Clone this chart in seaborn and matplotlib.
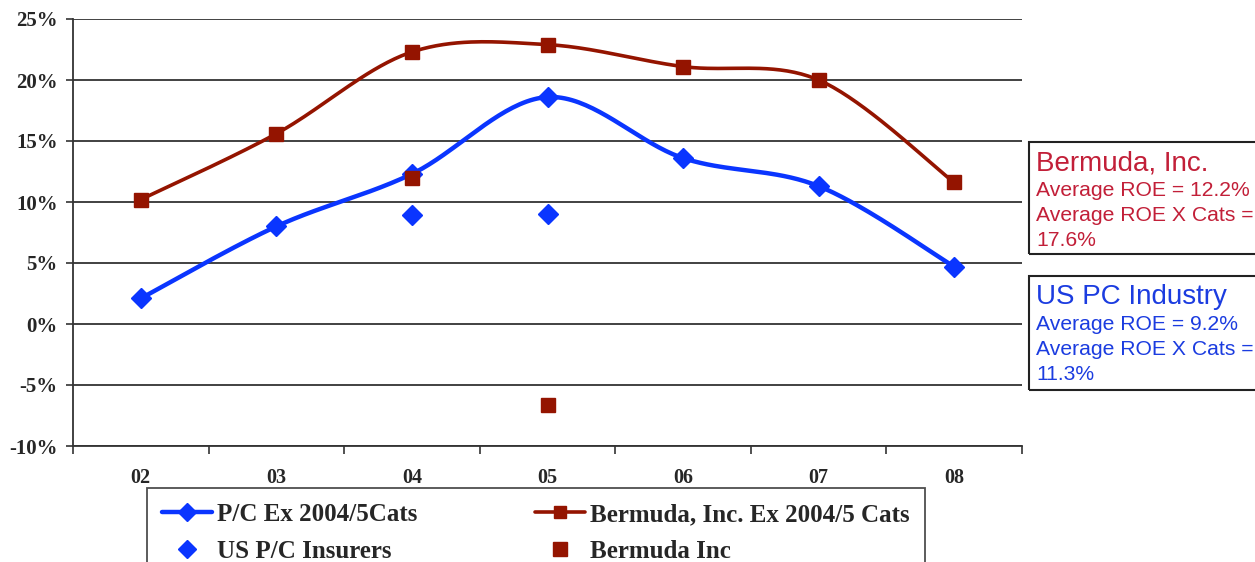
import numpy as np
import matplotlib
matplotlib.use("Agg")
import matplotlib.pyplot as plt
from matplotlib.lines import Line2D
from matplotlib.patches import Rectangle
import seaborn as sns

years = ["02", "03", "04", "05", "06", "07", "08"]
pc_ex_cats = [2.1, 8.0, 12.3, 18.6, 13.6, 11.3, 4.7]
bermuda_ex_cats = [10.2, 15.6, 22.3, 22.9, 21.1, 20.0, 11.6]
us_pc_years = ["04", "05"]
us_pc_insurers = [8.9, 9.0]
bermuda_years = ["04", "05"]
bermuda_inc = [12.0, -6.6]
y_ticks = [-10, -5, 0, 5, 10, 15, 20, 25]

blue = "#0A35FF"
red = "#941400"
red_txt = "#C21F38"
blue_txt = "#1B3CE0"


def smooth(xv, yv, n=40):
    # Excel-style smoothed line: Catmull-Rom converted to cubic Bezier segments
    p = np.column_stack([xv, yv]).astype(float)
    out = []
    for i in range(len(p) - 1):
        p0 = p[i - 1] if i > 0 else p[i]
        p1, p2 = p[i], p[i + 1]
        p3 = p[i + 2] if i + 2 < len(p) else p[i + 1]
        c1 = p1 + (p2 - p0) / 6
        c2 = p2 - (p3 - p1) / 6
        t = np.linspace(0, 1, n)[:, None]
        seg = (1 - t) ** 3 * p1 + 3 * (1 - t) ** 2 * t * c1 + 3 * (1 - t) * t ** 2 * c2 + t ** 3 * p2
        out.append(seg if i == 0 else seg[1:])
    s = np.vstack(out)
    return s[:, 0], s[:, 1]


sns.set_style("white")
serif = ["Liberation Serif", "DejaVu Serif"]

fig = plt.figure(figsize=(12.55, 5.62), dpi=100)
ax = fig.add_axes([73 / 1255, 1 - 446 / 562, (1022 - 73) / 1255, (446 - 19) / 562])

xpos = np.arange(len(years))
pos = {y: i for i, y in enumerate(years)}

for yy in y_ticks:
    ax.axhline(yy, color="#333333", lw=1.3, zorder=0)

sx, sy = smooth(xpos, bermuda_ex_cats)
sns.lineplot(x=sx, y=sy, ax=ax, color=red, lw=2.6, sort=False, zorder=2)
sx, sy = smooth(xpos, pc_ex_cats)
sns.lineplot(x=sx, y=sy, ax=ax, color=blue, lw=3.2, sort=False, zorder=3)

ax.plot(xpos, bermuda_ex_cats, ls="none", marker="s", ms=9.5, color=red, zorder=4)
ax.plot(xpos, pc_ex_cats, ls="none", marker="D", ms=10, color=blue, zorder=5)
ax.plot([pos[y] for y in us_pc_years], us_pc_insurers, ls="none", marker="D", ms=10, color=blue, zorder=5)
ax.plot([pos[y] for y in bermuda_years], bermuda_inc, ls="none", marker="s", ms=10.5, color=red, zorder=6)

ax.set_xlim(-0.5, len(years) - 0.5)
ax.set_ylim(-10, 25)
ax.set_yticks(y_ticks)
ax.set_yticklabels([f"{v}%" for v in y_ticks], fontfamily=serif, fontweight="bold", fontsize=15)
ax.set_xticks(xpos)
ax.set_xticklabels(years, fontfamily=serif, fontweight="bold", fontsize=14.5)
ax.set_xticks(np.arange(-0.5, len(years)), minor=True)
ax.tick_params(axis="x", which="major", length=0, pad=16)
ax.tick_params(axis="x", which="minor", length=6, width=1.2, color="#333333", direction="out", bottom=True)
ax.tick_params(axis="y", length=5, width=1.2, color="#333333", direction="out", left=True, pad=6)

for s in ["top", "right"]:
    ax.spines[s].set_visible(False)
for s in ["left", "bottom"]:
    ax.spines[s].set_color("#333333")
    ax.spines[s].set_linewidth(1.3)

handles = [
    Line2D([], [], color=blue, lw=3.2, marker="D", ms=9),
    Line2D([], [], ls="none", color=blue, marker="D", ms=9),
    Line2D([], [], color=red, lw=2.6, marker="s", ms=8),
    Line2D([], [], ls="none", color=red, marker="s", ms=10),
]
labels = ["P/C Ex 2004/5Cats", "US P/C Insurers", "Bermuda, Inc. Ex 2004/5 Cats", "Bermuda Inc"]
leg = fig.legend(handles, labels, ncol=2, loc="upper left",
                 bbox_to_anchor=(147 / 1255, 1 - 488 / 562),
                 prop={"family": serif, "weight": "bold", "size": 18},
                 frameon=True, fancybox=False, edgecolor="#222222",
                 handlelength=2.0, handletextpad=0.2, columnspacing=4.7,
                 labelspacing=0.55, borderpad=0.6, borderaxespad=0)
leg.get_frame().set_linewidth(1.3)

# annotation boxes on the right
sans = ["Liberation Sans", "DejaVu Sans"]
boxes = [
    (142, 254, red_txt, "Bermuda, Inc.", ["Average ROE = 12.2%", "Average ROE X Cats =", "17.6%"]),
    (276, 390, blue_txt, "US PC Industry", ["Average ROE = 9.2%", "Average ROE X Cats =", "11.3%"]),
]
for top, bot, col, title, lines in boxes:
    fig.patches.append(Rectangle((1029 / 1255, 1 - bot / 562), 0.3, (bot - top) / 562,
                                 transform=fig.transFigure, fill=False, ec="#222222", lw=1.5))
    fig.text(1036 / 1255, 1 - (top + 21) / 562, title, color=col, fontsize=20,
             family=sans, va="center")
    for k, ln in enumerate(lines):
        fig.text(1036 / 1255, 1 - (top + 49 + 24.5 * k) / 562, ln, color=col, fontsize=15.2,
                 family=sans, va="center")

fig.savefig("out.png", dpi=100)
